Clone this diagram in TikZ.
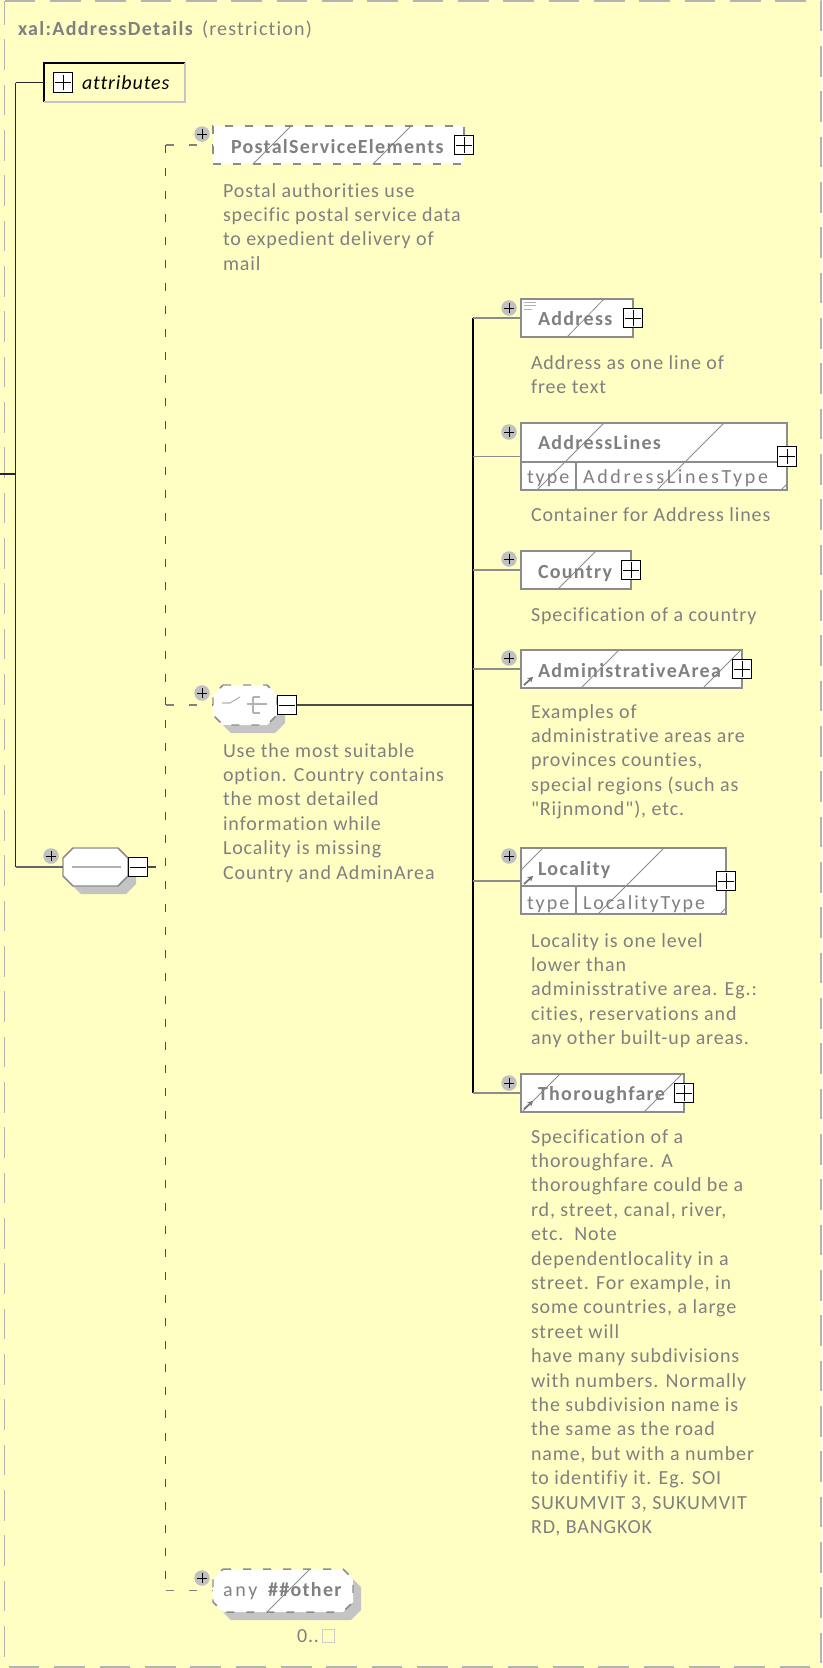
\documentclass[tikz,border=0pt]{standalone}
\usepackage{fontspec}
\setmainfont{Carlito}[LetterSpace=4.5, Ligatures={NoCommon,TeXOff}, BoldFeatures={LetterSpace=6.5}]
\newfontfamily\typefont{Carlito}[LetterSpace=10, Ligatures={NoCommon,TeXOff}]
\usetikzlibrary{calc,arrows.meta}

\newdimen\upx \upx=0.75pt
\definecolor{paper}{HTML}{FFFFC4}
\definecolor{ink}{HTML}{808080}
\definecolor{rim}{HTML}{8C8C8C}
\definecolor{dropgray}{HTML}{C4C4C4}
\definecolor{bubble}{HTML}{C0C0C0}
\definecolor{frame}{HTML}{B4B4B4}

% multi-line annotation, baseline on the first line
\newcommand\doclines[1]{\begin{tabular}[t]{@{}l@{}}#1\end{tabular}}

% octagon outline around a node: name, chamfer, x shift, y shift
\newcommand\octpath[4]{($(#1.north west)+(#2+#3,#4)$) -- ($(#1.north east)+(-#2+#3,#4)$) -- ($(#1.north east)+(#3,#2+#4)$) -- ($(#1.south east)+(#3,-#2+#4)$) -- ($(#1.south east)+(-#2+#3,#4)$) -- ($(#1.south west)+(#2+#3,#4)$) -- ($(#1.south west)+(#3,-#2+#4)$) -- ($(#1.north west)+(#3,#2+#4)$) -- cycle}

% grey bubble with a plus sign
\newcommand\pluscirc[2]{\node[pcircle] (#1) at #2 {};
  \draw[pline] ($(#1.center)+(-5,0)$) -- ($(#1.center)+(5,0)$) ($(#1.center)+(0,-5)$) -- ($(#1.center)+(0,5)$);}
% expand / collapse toggles
\newcommand\plusbox[2]{\node[tog] (#1) at #2 {};
  \draw[pline] ($(#1.west)+(2,0)$) -- ($(#1.east)+(-2,0)$) ($(#1.north)+(0,2)$) -- ($(#1.south)+(0,-2)$);}
\newcommand\minusbox[2]{\node[tog] (#1) at #2 {};
  \draw[pline] ($(#1.west)+(2,0)$) -- ($(#1.east)+(-2,0)$);}

\tikzset{
  lbl/.style={inner sep=0, outer sep=0, anchor=base west, text=ink, font=\fontsize{15}{18.3}\selectfont},
  ename/.style={lbl, font=\fontsize{15}{18.3}\selectfont\bfseries},
  tname/.style={lbl, font=\fontsize{15}{18.3}\selectfont\typefont},
  elem/.style={draw=rim, fill=white, line width=1.1pt, inner sep=0, outer sep=0, anchor=north west},
  optelem/.style={elem, dash pattern=on 6pt off 9pt},
  holder/.style={inner sep=0, outer sep=0, anchor=north west},
  hatch/.style={draw=rim, line width=0.6pt},
  pcircle/.style={circle, fill=bubble, inner sep=0, outer sep=0, minimum size=15.5\upx},
  pline/.style={black, line width=0.75pt},
  tog/.style={rectangle, draw=black, fill=white, line width=0.75pt, inner sep=0, outer sep=0, minimum size=19.5\upx},
  wire/.style={draw=black!85, line width=0.8pt},
  twig/.style={draw=rim, line width=0.8pt},
  dwire/.style={draw=black!70, line width=0.8pt, dash pattern=on 6pt off 11.25pt},
  icon/.style={draw=black!30, line width=0.8pt},
  refarrow/.style={draw=black!55, line width=1.3pt, -{Stealth[length=4pt,width=4.5pt]}},
}

\begin{document}
\begin{tikzpicture}[x=0.75pt, y=-0.75pt]
\useasboundingbox (0,0) rectangle (822,1668);
\fill[paper] (0,0) rectangle (822,1668);
\draw[frame, line width=1.1pt, dash pattern=on 23pt off 11pt] (4.5,1) -- (821,1) -- (821,1667) -- (4.5,1667) -- cycle;

% heading
\node[lbl] (title) at (18,35) {\textbf{xal:AddressDetails}\hspace{6pt}{\addfontfeature{LetterSpace=6}(restriction)}};

% attribute group
\node[holder, fill=paper, minimum width=141\upx, minimum height=39\upx] (attr) at (44,63) {};
\draw[black, line width=0.8pt] (attr.south west) -- (attr.north west) -- (attr.north east);
\draw[dropgray, line width=0.8pt] (attr.north east) -- (attr.south east) -- (attr.south west);
\plusbox{attr-x}{(63,82.5)}
\node[lbl, text=black, font=\fontsize{15}{18.3}\selectfont\itshape] (attr-t) at (82,89) {attributes};

% compositor holders
\node[holder, minimum width=65\upx, minimum height=38\upx] (seq) at (63,848) {};
\node[holder, minimum width=64\upx, minimum height=40\upx] (choice) at (213,685) {};
\node[holder, minimum width=140\upx, minimum height=43\upx] (any) at (213,1569) {};

% drop shadows
\fill[dropgray] \octpath{seq}{10}{8}{8};
\fill[dropgray] \octpath{choice}{10}{8}{8};
\fill[dropgray] \octpath{any}{10}{8}{8};

% sequence
\draw[rim, fill=white, line width=1.1pt] \octpath{seq}{10}{0}{0};
\draw[icon, line width=1pt] ($(seq.west)+(9,0)$) -- ($(seq.east)+(-7,0)$);

% choice
\draw[rim, fill=white, line width=1.1pt, dash pattern=on 6pt off 9pt] \octpath{choice}{10}{0}{0};
\draw[icon] ($(choice.center)+(-23,-2)$) -- ($(choice.center)+(-15,-2)$) -- ($(choice.center)+(-5,-8)$);
\draw[icon] ($(choice.center)+(8,-8)$) -- ($(choice.center)+(8,8)$)
  ($(choice.center)+(2,-1)$) -- ($(choice.center)+(22,-1)$)
  ($(choice.center)+(8,-8)$) -- ($(choice.center)+(15,-8)$)
  ($(choice.center)+(8,8)$) -- ($(choice.center)+(15,8)$);

% wildcard
\draw[rim, fill=white, line width=1.1pt, dash pattern=on 6pt off 9pt] \octpath{any}{10}{0}{0};
\draw[hatch] (267,1612) -- (310,1569);
\node[lbl] (any-t) at (223,1596) {{\addfontfeature{LetterSpace=14}any}\hspace{6pt}\textbf{\addfontfeature{LetterSpace=-7}\#\#other}};
\node[lbl] (any-occ) at (297,1642) {0..};
\draw[black!20, line width=0.6pt] ($(any-occ.base east)+(3,0)$) rectangle ++(12,-13);

% element boxes
\node[optelem, minimum width=251\upx, minimum height=38\upx] (pse) at (213,126) {};
\draw[hatch] (253,164) -- (291,126) (373,164) -- (411,126);
\node[ename] (pse-t) at (231,153) {PostalServiceElements};

\node[elem, minimum width=112\upx, minimum height=38\upx] (addr) at (521,299) {};
\draw[hatch] (567,337) -- (604,299);
\draw[icon, line width=0.6pt] (524,302) -- (536,302) (524,305.5) -- (536,305.5) (524,309) -- (532,309);
\node[ename] (addr-t) at (538,325) {Address};

\node[elem, minimum width=266\upx, minimum height=67\upx] (al) at (521,423) {};
\draw[rim, line width=1.1pt] ($(al.north west)+(0,39)$) -- ($(al.north east)+(0,39)$)
  ($(al.north west)+(55,39)$) -- ($(al.south west)+(55,0)$);
\draw[hatch] (537,490) -- (604,423) (657,490) -- (724,423) (781,490) -- (787,484);
\node[ename] (al-t) at (538,449) {AddressLines};
\node[tname] (al-k) at (527,483) {type};
\node[tname] (al-v) at (583,483) {\addfontfeature{LetterSpace=13.5}AddressLinesType};

\node[elem, minimum width=110\upx, minimum height=38\upx] (ctry) at (521,551) {};
\draw[hatch] (558,589) -- (596,551);
\node[ename] (ctry-t) at (538,578) {Country};

\node[elem, minimum width=221\upx, minimum height=38\upx] (adm) at (521,650) {};
\draw[hatch] (581,688) -- (619,650) (703,688) -- (741,650);
\node[ename] (adm-t) at (538,677) {AdministrativeArea};
\draw[refarrow] (524,685) -- (533,677);

\node[elem, minimum width=205\upx, minimum height=66\upx] (loc) at (521,848) {};
\draw[rim, line width=1.1pt] ($(loc.north west)+(0,38)$) -- ($(loc.north east)+(0,38)$)
  ($(loc.north west)+(55,38)$) -- ($(loc.south west)+(55,0)$);
\draw[hatch] (521,870) -- (543,848) (598,914) -- (664,848) (720,914) -- (726,908);
\node[ename] (loc-t) at (538,875) {Locality};
\draw[refarrow] (524,884) -- (533,876);
\node[tname] (loc-k) at (527,909) {type};
\node[tname] (loc-v) at (583,909) {LocalityType};

\node[elem, minimum width=163\upx, minimum height=38\upx] (thor) at (521,1074) {};
\draw[hatch] (522,1112) -- (560,1074) (644,1112) -- (682,1074);
\node[ename] (thor-t) at (538,1100) {Thoroughfare};
\draw[refarrow] (524,1109) -- (533,1101);

% occurrence bubbles
\pluscirc{seq-p}{(51,856)}
\pluscirc{choice-p}{(202,693)}
\pluscirc{any-p}{(202,1578)}
\pluscirc{pse-p}{(202,134)}
\pluscirc{addr-p}{(509,308)}
\pluscirc{al-p}{(509,432)}
\pluscirc{ctry-p}{(509,559)}
\pluscirc{adm-p}{(509,658)}
\pluscirc{loc-p}{(509,856)}
\pluscirc{thor-p}{(509,1083)}

% toggles
\minusbox{seq-m}{($(seq.east)+(10,0)$)}
\minusbox{choice-m}{($(choice.east)+(10,0)$)}
\plusbox{pse-x}{(pse.east)}
\plusbox{addr-x}{(addr.east)}
\plusbox{al-x}{(al.east)}
\plusbox{ctry-x}{(ctry.east)}
\plusbox{adm-x}{(adm.east)}
\plusbox{loc-x}{(loc.east)}
\plusbox{thor-x}{(thor.east)}

% connectors
\coordinate (root) at (0,474);
\coordinate (lbus) at (15.5,474);
\coordinate (dbus) at (165.5,705);
\coordinate (cbus) at (473,705);

\draw[wire] (root) -- (lbus);
\draw[wire] (lbus |- attr.west) -- (lbus |- seq.west);
\draw[wire] (lbus |- attr.west) -- (attr.west);
\draw[twig, draw=black!60] (lbus |- seq.west) -- (seq.west);

\draw[dwire] (seq-m.east) -- (dbus |- seq-m.east);
\draw[dwire] (dbus |- pse.west) -- (dbus |- any.west);
\draw[dwire, draw=ink] (dbus |- pse.west) -- (pse.west);
\draw[dwire, draw=ink] (dbus |- choice.west) -- (choice.west);
\draw[dwire, draw=ink] (dbus |- any.west) -- (any.west);

\draw[wire, draw=black!70] (choice-m.east) -- (cbus);
\draw[wire, draw=black] (cbus |- addr.west) -- (cbus |- thor.west);
\foreach \e in {addr, al, ctry, adm, loc, thor}
  \draw[twig] (cbus |- \e.west) -- (\e.west);

% annotations
\node[lbl] (pse-d) at (223,197) {\doclines{Postal authorities use\\specific postal service data\\to expedient delivery of\\mail}};
\node[lbl] (choice-d) at (223,757) {\doclines{Use the most suitable\\option. Country contains\\the most detailed\\information while\\Locality is missing\\Country and AdminArea}};
\node[lbl] (addr-d) at (531,369) {\doclines{Address as one line of\\free text}};
\node[lbl] (al-d) at (531,521) {Container for Address lines};
\node[lbl] (ctry-d) at (531,621) {Specification of a country};
\node[lbl] (adm-d) at (531,718) {\doclines{Examples of\\administrative areas are\\provinces counties,\\special regions (such as\\"Rijnmond"), etc.}};
\node[lbl] (loc-d) at (531,947) {\doclines{Locality is one level\\lower than\\adminisstrative area. Eg.:\\cities, reservations and\\any other built-up areas.}};
\node[lbl] (thor-d) at (531,1143) {\doclines{Specification of a\\thoroughfare. A\\thoroughfare could be a\\rd, street, canal, river,\\etc.\ \ Note\\dependentlocality in a\\street. For example, in\\some countries, a large\\street will\\have many subdivisions\\with numbers. Normally\\the subdivision name is\\the same as the road\\name, but with a number\\to identifiy it. Eg. SOI\\SUKUMVIT 3, SUKUMVIT\\RD, BANGKOK}};
\end{tikzpicture}
\end{document}
